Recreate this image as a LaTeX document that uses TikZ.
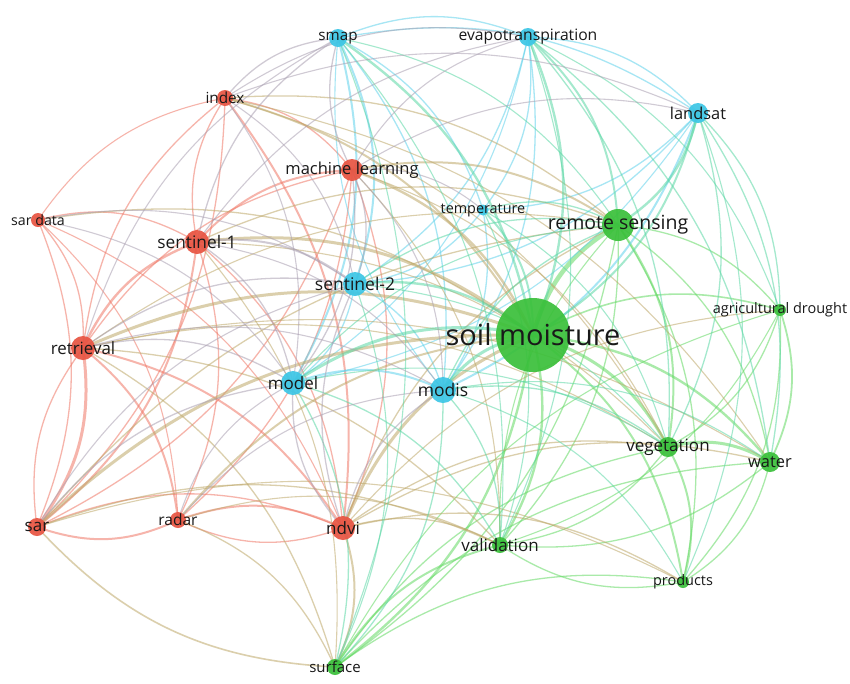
\documentclass[tikz,border=0pt]{standalone}
\usepackage{fontspec}
\setmainfont{Open Sans}

\definecolor{kwred}{RGB}{232,84,66}
\definecolor{kwblue}{RGB}{60,198,230}
\definecolor{kwgreen}{RGB}{58,192,58}
\definecolor{egred}{RGB}{240,120,102}
\definecolor{egblue}{RGB}{95,210,235}
\definecolor{eggreen}{RGB}{100,218,100}
\definecolor{egrg}{RGB}{190,168,105}
\definecolor{egbg}{RGB}{90,215,165}
\definecolor{egrb}{RGB}{170,160,178}

\newcommand\kwsize[1]{\fontsize{#1}{#1}\selectfont}

\tikzset{
  kw/.style={circle, inner sep=0pt, draw=none, fill opacity=0.92},
  lbl/.style={inner sep=0pt, text=black!90},
  link/.style={opacity=0.55, bend left=22},
}

\begin{document}
\begin{tikzpicture}[x=1pt, y=-1pt]
    \useasboundingbox[fill=white] (0,0) rectangle (850,683);
    % keyword positions
    \coordinate (sm) at (533,335);
    \coordinate (rs) at (618,225);
    \coordinate (ad) at (780,310);
    \coordinate (veg) at (668,447);
    \coordinate (wat) at (770,462);
    \coordinate (prod) at (683,582);
    \coordinate (val) at (500,545);
    \coordinate (surf) at (335,667);
    \coordinate (ndvi) at (343,528);
    \coordinate (radar) at (178,520);
    \coordinate (sar) at (37,527);
    \coordinate (retr) at (83,348);
    \coordinate (sard) at (38,220);
    \coordinate (s1) at (197,242);
    \coordinate (idx) at (225,98);
    \coordinate (ml) at (352,170);
    \coordinate (smap) at (338,38);
    \coordinate (et) at (528,37);
    \coordinate (land) at (698,113);
    \coordinate (temp) at (483,210);
    \coordinate (s2) at (355,284);
    \coordinate (model) at (293,383);
    \coordinate (modis) at (443,390);

    % links inside the green cluster
    \foreach \a/\b/\w in {sm/rs/4.5, sm/ad/1.6, sm/veg/3, sm/wat/2.4, sm/prod/2, sm/val/2.4,
        sm/surf/2.4, rs/ad/1.3, rs/veg/2, rs/wat/1.3, rs/prod/1.3, rs/val/1.3, rs/surf/1.3,
        ad/veg/1.3, ad/wat/1.8, ad/prod/1.3, veg/wat/3, veg/prod/2, veg/val/1.3,
        wat/prod/1.3, wat/val/1.3, prod/val/1.3, surf/val/2, surf/prod/1.3, surf/veg/1.3,
        surf/wat/1.3, ad/val/1.1, surf/ad/1.1, val/rs/1.1}
        \draw[link, eggreen, line width=\w pt] (\a) to (\b);
    % links inside the red cluster
    \foreach \a/\b/\w in {sard/retr/1.3, sard/s1/1.3, sard/sar/1.3, sard/radar/1.1, sard/idx/1.1,
        retr/s1/2.4, retr/sar/3, retr/radar/2, retr/ndvi/2, retr/idx/1.3, retr/ml/1.3,
        s1/sar/2, s1/radar/1.3, s1/ndvi/1.3, s1/idx/1.3, s1/ml/2, idx/ml/1.3, idx/ndvi/2,
        idx/sar/1.3, ml/ndvi/1.3, ml/sar/1.3, ml/radar/1.3, radar/sar/2, radar/ndvi/2,
        sar/ndvi/1.3, sard/ndvi/1.1, sar/retr/1.3, ndvi/radar/1.3}
        \draw[link, egred, line width=\w pt] (\a) to (\b);
    % links inside the blue cluster
    \foreach \a/\b/\w in {smap/et/1.3, smap/land/1.3, smap/temp/1.3, smap/s2/2, smap/model/2,
        smap/modis/1.3, et/land/1.3, et/temp/1.3, et/modis/1.3, et/s2/1.3, land/temp/1.3,
        land/s2/1.3, land/modis/2, temp/s2/1.3, temp/modis/1.3, s2/model/1.3, s2/modis/1.3,
        model/modis/2, et/model/1.1, land/model/1.1, modis/smap/1.1}
        \draw[link, egblue, line width=\w pt] (\a) to (\b);
    % red to green
    \foreach \a/\b/\w in {s1/sm/3, retr/sm/3, sar/sm/3, ndvi/sm/3, ml/sm/2.4,
        radar/sm/2, idx/sm/2, sard/sm/1.3, ndvi/veg/1.3, ndvi/val/1.3, ndvi/surf/2,
        ndvi/prod/1.3, ndvi/wat/1.3, ndvi/rs/1.3, surf/sar/1.6, sar/val/1.3, retr/surf/1.3,
        retr/val/1.3, s1/rs/1.3, ml/rs/2, idx/rs/1.3, idx/veg/1.1, radar/surf/1.3, s1/veg/1.1,
        retr/veg/1.1, sar/rs/1.3, ml/veg/1.1, retr/wat/1.1, ndvi/ad/1.1, sar/prod/1.1,
        radar/val/1.1, ml/val/1.1, s1/surf/1.1, retr/rs/1.1, idx/wat/1.1}
        \draw[link, egrg, line width=\w pt] (\a) to (\b);
    % blue to green
    \foreach \a/\b/\w in {smap/sm/2.4, et/sm/2.4, land/sm/2, land/rs/2.4, et/rs/2, temp/sm/2,
        temp/rs/1.3, s2/sm/2.4, model/sm/3, modis/sm/3, modis/rs/1.3, modis/veg/1.3,
        modis/val/1.3, model/val/1.3, model/surf/1.3, s2/rs/1.3, land/veg/1.3, et/veg/1.3,
        land/wat/1.3, et/wat/1.3, smap/val/1.1, modis/surf/1.3, land/ad/1.3, et/ad/1.1,
        land/prod/1.1, modis/prod/1.1, s2/veg/1.1, temp/veg/1.1, smap/rs/1.1, smap/surf/1.1,
        et/val/1.1, temp/val/1.1, s2/surf/1.1, model/veg/1.1, model/rs/1.1, modis/wat/1.1}
        \draw[link, egbg, line width=\w pt] (\a) to (\b);
    % red to blue
    \foreach \a/\b/\w in {s1/s2/2, s1/model/1.3, s1/smap/1.3, retr/model/1.3, retr/s2/1.3,
        ml/smap/1.3, ml/s2/1.3, ml/model/1.3, idx/smap/1.3, idx/et/1.1, idx/land/1.1, ml/et/1.1,
        ml/land/1.1, ml/temp/1.1, ndvi/model/1.3, ndvi/modis/1.3, ndvi/s2/1.3, radar/model/1.1,
        sar/model/1.3, sard/s2/1.1, idx/s2/1.1, retr/smap/1.1, s1/modis/1.1, ml/modis/1.1,
        sar/s2/1.1, radar/modis/1.1, retr/modis/1.1, sard/model/1.1, idx/model/1.1, s1/et/1.1}
        \draw[link, egrb, line width=\w pt] (\a) to (\b);

    % keyword circles
    \node[kw, fill=kwgreen, minimum size=74pt] (sm-n) at (sm) {};
    \node[kw, fill=kwgreen, minimum size=32pt] (rs-n) at (rs) {};
    \node[kw, fill=kwgreen, minimum size=12pt] (ad-n) at (ad) {};
    \node[kw, fill=kwgreen, minimum size=20pt] (veg-n) at (veg) {};
    \node[kw, fill=kwgreen, minimum size=20pt] (wat-n) at (wat) {};
    \node[kw, fill=kwgreen, minimum size=12pt] (prod-n) at (prod) {};
    \node[kw, fill=kwgreen, minimum size=16pt] (val-n) at (val) {};
    \node[kw, fill=kwgreen, minimum size=16pt] (surf-n) at (surf) {};
    \node[kw, fill=kwred, minimum size=24pt] (ndvi-n) at (ndvi) {};
    \node[kw, fill=kwred, minimum size=16pt] (radar-n) at (radar) {};
    \node[kw, fill=kwred, minimum size=18pt] (sar-n) at (sar) {};
    \node[kw, fill=kwred, minimum size=24pt] (retr-n) at (retr) {};
    \node[kw, fill=kwred, minimum size=14pt] (sard-n) at (sard) {};
    \node[kw, fill=kwred, minimum size=24pt] (s1-n) at (s1) {};
    \node[kw, fill=kwred, minimum size=16pt] (idx-n) at (idx) {};
    \node[kw, fill=kwred, minimum size=22pt] (ml-n) at (ml) {};
    \node[kw, fill=kwblue, minimum size=18pt] (smap-n) at (smap) {};
    \node[kw, fill=kwblue, minimum size=18pt] (et-n) at (et) {};
    \node[kw, fill=kwblue, minimum size=20pt] (land-n) at (land) {};
    \node[kw, fill=kwblue, minimum size=11pt] (temp-n) at (temp) {};
    \node[kw, fill=kwblue, minimum size=24pt] (s2-n) at (s2) {};
    \node[kw, fill=kwblue, minimum size=24pt] (model-n) at (model) {};
    \node[kw, fill=kwblue, minimum size=26pt] (modis-n) at (modis) {};

    % keyword labels
    \node[lbl, font=\kwsize{29}] (sm-l) at (sm) {soil moisture};
    \node[lbl, font=\kwsize{19.5}] (rs-l) at (rs) {remote sensing};
    \node[lbl, font=\kwsize{14.5}] (ad-l) at (ad) {agricultural drought};
    \node[lbl, font=\kwsize{17}] (veg-l) at (veg) {vegetation};
    \node[lbl, font=\kwsize{16.4}] (wat-l) at (wat) {water};
    \node[lbl, font=\kwsize{14.5}] (prod-l) at (prod) {products};
    \node[lbl, font=\kwsize{17}] (val-l) at (val) {validation};
    \node[lbl, font=\kwsize{15}] (surf-l) at (surf) {surface};
    \node[lbl, font=\kwsize{17}] (ndvi-l) at (ndvi) {ndvi};
    \node[lbl, font=\kwsize{15.5}] (radar-l) at (radar) {radar};
    \node[lbl, font=\kwsize{17}] (sar-l) at (sar) {sar};
    \node[lbl, font=\kwsize{16.9}] (retr-l) at (retr) {retrieval};
    \node[lbl, font=\kwsize{14.2}] (sard-l) at (sard) {sar data};
    \node[lbl, font=\kwsize{17.3}] (s1-l) at (s1) {sentinel-1};
    \node[lbl, font=\kwsize{15.3}] (idx-l) at (idx) {index};
    \node[lbl, font=\kwsize{16.5}] (ml-l) at (ml) {machine learning};
    \node[lbl, font=\kwsize{15.2}] (smap-l) at (smap) {smap};
    \node[lbl, font=\kwsize{15.7}] (et-l) at (et) {evapotranspiration};
    \node[lbl, font=\kwsize{16.4}] (land-l) at (land) {landsat};
    \node[lbl, font=\kwsize{14.4}] (temp-l) at (temp) {temperature};
    \node[lbl, font=\kwsize{17.5}] (s2-l) at (s2) {sentinel-2};
    \node[lbl, font=\kwsize{17}] (model-l) at (model) {model};
    \node[lbl, font=\kwsize{17.5}] (modis-l) at (modis) {modis};
\end{tikzpicture}
\end{document}
